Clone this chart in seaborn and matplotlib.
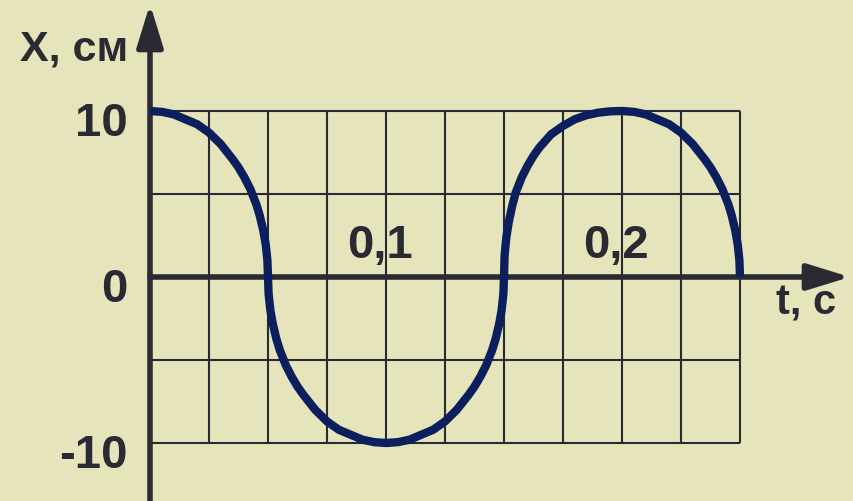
import matplotlib
matplotlib.use("Agg")
import matplotlib.pyplot as plt
import seaborn as sns
import pandas as pd

# время (с) и смещение (см)
t_vals = [0, 0.005, 0.01, 0.015, 0.02, 0.025, 0.03, 0.035, 0.0375, 0.04, 0.0425, 0.045, 0.0465, 0.048, 0.049, 0.04975, 0.05,
          0.05025, 0.051, 0.052, 0.0535, 0.055, 0.0575, 0.06, 0.0625, 0.065, 0.07, 0.075, 0.08, 0.085, 0.09, 0.095, 0.1,
          0.105, 0.11, 0.115, 0.12, 0.125, 0.13, 0.135, 0.1375, 0.14, 0.1425, 0.145, 0.1465, 0.148, 0.149, 0.14975, 0.15,
          0.15025, 0.151, 0.152, 0.1535, 0.155, 0.1575, 0.16, 0.1625, 0.165, 0.17, 0.175, 0.18, 0.185, 0.19, 0.195, 0.2,
          0.205, 0.21, 0.215, 0.22, 0.225, 0.23, 0.235, 0.2375, 0.24, 0.2425, 0.245, 0.2465, 0.248, 0.249, 0.24975, 0.25]
x_vals = [10, 9.95, 9.8, 9.5, 9.2, 8.7, 8.0, 7.1, 6.6, 6.0, 5.3, 4.4, 3.7, 2.8, 2.0, 1.0, 0,
          -1.0, -2.0, -2.8, -3.7, -4.4, -5.3, -6.0, -6.6, -7.1, -8.0, -8.7, -9.2, -9.5, -9.8, -9.95, -10,
          -9.95, -9.8, -9.5, -9.2, -8.7, -8.0, -7.1, -6.6, -6.0, -5.3, -4.4, -3.7, -2.8, -2.0, -1.0, 0,
          1.3, 2.4, 3.3, 4.3, 5.1, 6.0, 6.7, 7.3, 7.8, 8.6, 9.1, 9.5, 9.75, 9.9, 9.98, 10,
          9.95, 9.8, 9.5, 9.2, 8.7, 8.0, 7.1, 6.6, 6.0, 5.3, 4.4, 3.7, 2.8, 2.0, 1.0, 0]

grid_t = [0, 0.025, 0.05, 0.075, 0.1, 0.125, 0.15, 0.175, 0.2, 0.225, 0.25]
grid_x = [-10, -5, 0, 5, 10]
y_ticks = [10, 0, -10]
y_labels = ["10", "0", "-10"]
t_ticks = [0.1, 0.2]
t_labels = ["0,1", "0,2"]

bg = "#e6e4bb"
ink = "#2a2a33"
navy = "#0b1f5e"

df = pd.DataFrame({"t": t_vals, "x": x_vals})

fig = plt.figure(figsize=(8.54, 5.02), dpi=100, facecolor=bg)
ax = fig.add_axes([0, 0, 1, 1])
ax.set_facecolor(bg)
ax.set_xlim(-150 / 2360, (854 - 150) / 2360)
ax.set_ylim(-(502 - 278) / 16.6, 278 / 16.6)
ax.axis("off")

# сетка
ax.vlines(grid_t, min(grid_x), max(grid_x), color=ink, lw=1.5, zorder=1)
ax.hlines(grid_x, min(grid_t), max(grid_t), color=ink, lw=1.5, zorder=1)

# оси со стрелками
arrow = dict(arrowstyle="-|>,head_length=1.3,head_width=0.4", lw=4, color=ink,
             mutation_scale=20, shrinkA=0, shrinkB=0)
ax.annotate("", xy=(0, 278 / 16.6 - 5 / 16.6), xytext=(0, -(502 - 278) / 16.6),
            arrowprops=arrow, zorder=3)
ax.annotate("", xy=((850 - 150) / 2360, 0), xytext=(0, 0), arrowprops=arrow, zorder=3)

sns.lineplot(data=df, x="t", y="x", sort=False, estimator=None, color=navy,
             lw=6, ax=ax, zorder=4, solid_capstyle="butt", solid_joinstyle="round")

font = dict(family="Liberation Sans", weight="bold", color=ink)
for v, lab in zip(y_ticks, y_labels):
    ax.text(-22 / 2360, v - 1.45, lab, ha="right", va="baseline", fontsize=34, **font)
for v, lab in zip(t_ticks, t_labels):
    ax.text(v - 0.0025, 1.2, lab, ha="center", va="baseline", fontsize=34, **font)
ax.text(-0.0322, 13.1, "X, см", ha="center", va="baseline", fontsize=31, **font)
ax.text(0.2778, -2.2, "t, с", ha="center", va="baseline", fontsize=30, **font)

fig.savefig("out.png", dpi=100, facecolor=bg)
